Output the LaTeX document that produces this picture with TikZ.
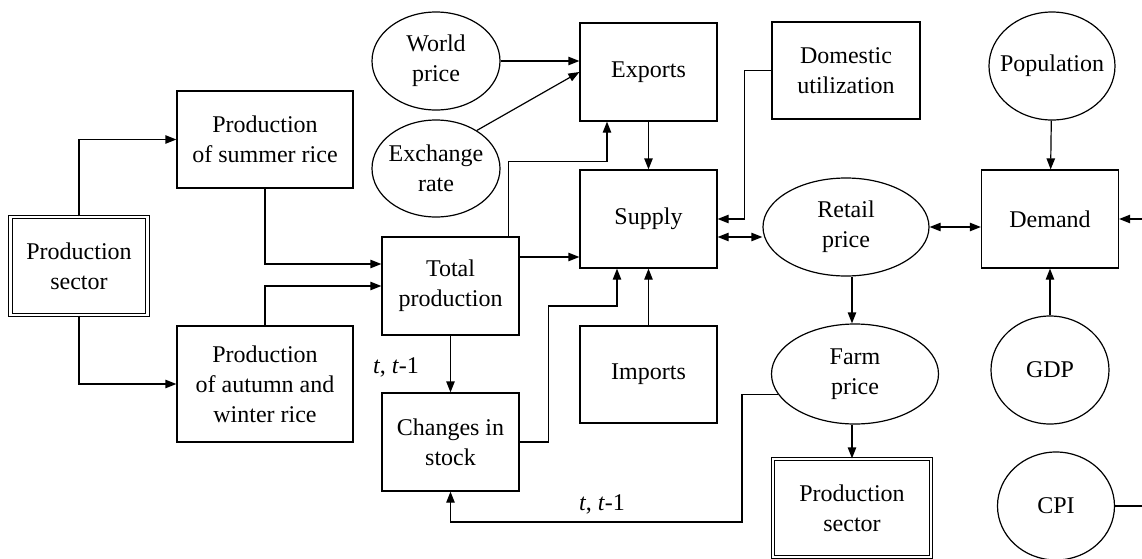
\documentclass[tikz,border=0pt]{standalone}
\usepackage{fontspec}
\setmainfont{Liberation Serif}
\usetikzlibrary{arrows.meta, positioning, shapes.geometric, calc}

\begin{document}
\begin{tikzpicture}[
    x=0.5pt, y=-0.5pt,
    line width=0.6pt,
    box/.style={draw,minimum width=68.5pt,minimum height=49pt,inner sep=0pt,align=center,font=\fontsize{12}{15}\selectfont},
    sector/.style={box,double,double distance=1.2pt},
    oval/.style={draw,ellipse,inner xsep=-6pt,inner ysep=0pt,align=center,font=\fontsize{12}{15}\selectfont},
    lbl/.style={font=\fontsize{12}{15}\selectfont},
    arrow/.style={-{Triangle[length=5.5pt,width=4.2pt]}},
    both/.style={{Triangle[length=5.5pt,width=4.2pt]}-{Triangle[length=5.5pt,width=4.2pt]}}
]
    \useasboundingbox (0,0) rectangle (1142,558);

    % Production side
    \node[sector,minimum width=68.6pt] (PS1) at (79,266) {Production\\sector};
    \node[box,minimum width=88pt,minimum height=48.5pt] (SUM) at (265,139.5) {Production\\of summer rice};
    \node[box,minimum width=88pt,minimum height=58pt] (AUT) at (265,384) {Production\\of autumn and\\winter rice};
    \node[box] (TOT) at (450.5,286) {Total\\production};
    \node[box] (STK) at (450.5,442) {Changes in\\stock};

    % Trade and supply
    \node[oval,minimum width=64pt,minimum height=49pt] (WP) at (436,61) {World\\price};
    \node[oval,minimum width=64pt,minimum height=48.5pt] (ER) at (436,168.5) {Exchange\\rate};
    \node[box] (EXP) at (648.5,72) {Exports};
    \node[box] (SUP) at (648.5,219) {Supply};
    \node[box,minimum height=48.5pt] (IMP) at (648.5,374.5) {Imports};
    \node[box,minimum width=74pt,minimum height=48.5pt] (DOM) at (846,70.5) {Domestic\\utilization};

    % Prices
    \node[oval,minimum width=83pt,minimum height=49pt] (RP) at (846,227) {Retail\\price};
    \node[oval,minimum width=83.5pt,minimum height=50pt] (FP) at (855,374) {Farm\\price};
    \node[sector,minimum width=79pt] (PS2) at (852,508) {Production\\sector};

    % Demand side
    \node[box] (DEM) at (1050,219) {Demand};
    \node[oval,minimum width=63pt,minimum height=54pt] (POP) at (1052,66) {Population};
    \node[oval,minimum width=59pt,minimum height=54pt] (GDP) at (1050,370) {GDP};
    \node[oval,minimum width=58.5pt,minimum height=54pt] (CPI) at (1056,506) {CPI};

    % Lag labels
    \node[lbl] (LAG1) at (396,367) {\textit{t}, \textit{t}-1};
    \node[lbl] (LAG2) at (602,504) {\textit{t}, \textit{t}-1};

    % Free ends and bends
    \coordinate (RIN) at (1142,219);
    \coordinate (COUT) at (1142,506);
    \coordinate (FB) at (742,522);

    % Production flows
    \draw[arrow] (PS1.north) |- (SUM.west);
    \draw[arrow] (PS1.south) |- (AUT.west);
    \draw[arrow] (SUM.south) |- ([yshift=11pt]TOT.west);
    \draw[arrow] (AUT.north) |- (TOT.west);
    \draw[arrow] (TOT) -- (STK);

    % Into exports and supply
    \draw[arrow] (WP.east) -- (WP.east -| EXP.west);
    \draw[arrow] (ER.43) -- (EXP.west);
    \draw[arrow] ([xshift=29pt]TOT.north) -- ++(0,-75) -| ([xshift=-20.75pt]EXP.south);
    \draw[arrow] (EXP) -- (SUP);
    \draw[arrow] ([yshift=14.5pt]TOT.east) -- ([yshift=14.5pt]TOT.east -| SUP.west);
    \draw[arrow] (STK.east) -- ++(29,0) -- ++(0,-136) -| ([xshift=-15.75pt]SUP.south);
    \draw[arrow] (IMP) -- (SUP);
    \draw[arrow] (DOM.west) -- ++(-27,0) |- (SUP.east);

    % Prices and demand
    \draw[both] ([yshift=-9pt]SUP.east) -- ([yshift=-9pt]SUP.east -| RP.west);
    \draw[both] (RP.east) -- (RP.east -| DEM.west);
    \draw[arrow] (POP) -- (DEM);
    \draw[arrow] (GDP) -- (DEM);
    \draw[arrow] (RIN) -- (DEM.east);
    \draw (CPI.east) -- (COUT);
    \draw[arrow] (RP.south -| PS2.north) -- (FP.north -| PS2.north);
    \draw[arrow] (FP.south -| PS2.north) -- (PS2.north);
    \draw[arrow] (FP.195) -| (FB) -| (STK.south);
\end{tikzpicture}
\end{document}
